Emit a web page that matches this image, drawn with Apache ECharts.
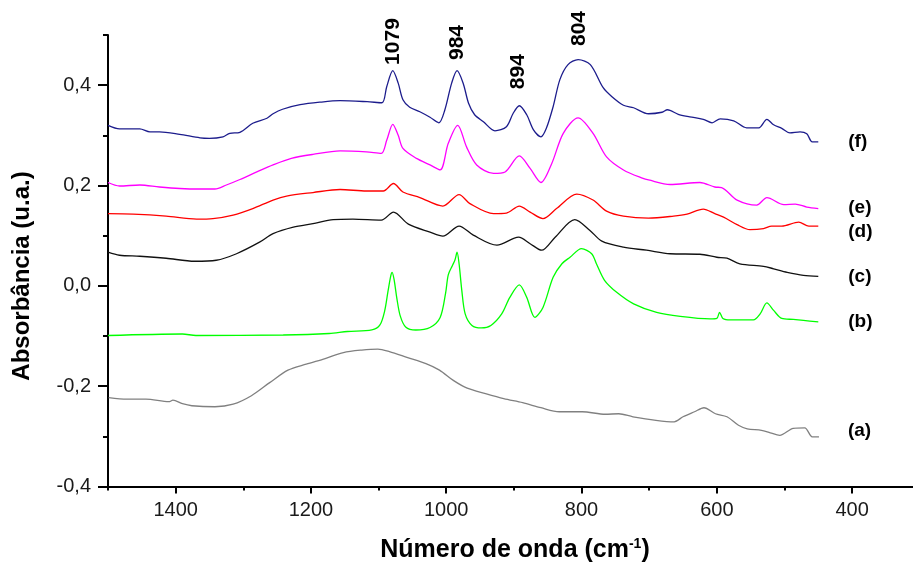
<!DOCTYPE html>
<html>
<head>
<meta charset="utf-8">
<title>Espectros FTIR</title>
<script src="https://cdn.jsdelivr.net/npm/echarts@6/dist/echarts.min.js"></script>
<style>
  html, body { margin: 0; padding: 0; background: #fff; }
  #chart { width: 913px; height: 567px; }
</style>
</head>
<body>
<div id="chart"></div>
<script>
// Spectra: [número de onda (cm-1), absorbância (u.a.)]
const spectrumA = [[1499,-0.223],[1472,-0.226],[1444,-0.226],[1410,-0.231],[1404,-0.228],[1390,-0.235],[1376,-0.239],[1342,-0.241],[1315,-0.236],[1288,-0.219],[1261,-0.193],[1234,-0.168],[1207,-0.156],[1179,-0.145],[1152,-0.133],[1125,-0.128],[1101,-0.126],[1084,-0.131],[1057,-0.143],[1030,-0.155],[1010,-0.168],[989,-0.189],[969,-0.204],[942,-0.215],[915,-0.225],[887,-0.233],[860,-0.243],[833,-0.251],[799,-0.251],[765,-0.256],[745,-0.255],[724,-0.261],[690,-0.268],[663,-0.271],[650,-0.261],[633,-0.251],[619,-0.243],[602,-0.255],[585,-0.261],[568,-0.278],[555,-0.285],[534,-0.288],[521,-0.293],[507,-0.298],[487,-0.284],[470,-0.283],[459,-0.301],[449,-0.301]];

const spectrumB = [[1500,-0.099],[1390,-0.096],[1370,-0.099],[1241,-0.098],[1173,-0.095],[1146,-0.091],[1110,-0.088],[1098,-0.078],[1091,-0.05],[1086,-0.01],[1082,0.02],[1080,0.027],[1077,0.012],[1073,-0.025],[1068,-0.06],[1060,-0.082],[1045,-0.088],[1024,-0.083],[1009,-0.063],[1001,-0.015],[997,0.022],[991,0.04],[987,0.052],[984,0.067],[981,0.044],[977,-0.009],[972,-0.056],[962,-0.079],[948,-0.084],[934,-0.079],[918,-0.056],[906,-0.023],[892,0.002],[881,-0.023],[869,-0.063],[857,-0.043],[842,0.017],[829,0.044],[817,0.057],[800,0.074],[785,0.064],[778,0.044],[766,0.011],[748,-0.013],[723,-0.036],[689,-0.053],[654,-0.061],[610,-0.066],[600,-0.065],[596,-0.053],[591,-0.065],[580,-0.068],[546,-0.068],[536,-0.056],[526,-0.034],[516,-0.049],[504,-0.065],[487,-0.067],[472,-0.069],[450,-0.072]];

const spectrumC = [[1500,0.067],[1483,0.061],[1453,0.059],[1414,0.055],[1372,0.049],[1340,0.051],[1310,0.064],[1276,0.087],[1256,0.104],[1226,0.117],[1197,0.124],[1167,0.132],[1138,0.133],[1096,0.131],[1078,0.147],[1056,0.123],[1024,0.107],[1005,0.099],[981,0.119],[960,0.101],[925,0.081],[893,0.097],[876,0.084],[859,0.071],[839,0.097],[810,0.132],[788,0.111],[770,0.089],[738,0.077],[704,0.071],[669,0.064],[625,0.063],[600,0.057],[585,0.055],[566,0.044],[531,0.039],[516,0.034],[496,0.027],[472,0.021],[450,0.019]];

const spectrumD = [[1500,0.144],[1463,0.143],[1414,0.139],[1369,0.133],[1345,0.134],[1315,0.141],[1286,0.154],[1256,0.171],[1236,0.179],[1197,0.186],[1157,0.192],[1118,0.189],[1093,0.189],[1078,0.204],[1064,0.187],[1039,0.176],[1005,0.159],[981,0.182],[965,0.164],[930,0.144],[911,0.145],[892,0.159],[876,0.147],[857,0.134],[837,0.154],[807,0.183],[783,0.171],[763,0.149],[738,0.139],[701,0.135],[664,0.139],[644,0.143],[620,0.153],[603,0.144],[590,0.137],[570,0.122],[551,0.112],[531,0.114],[519,0.119],[504,0.119],[479,0.127],[464,0.119],[450,0.119]];

const spectrumE = [[1500,0.206],[1483,0.199],[1453,0.201],[1424,0.197],[1394,0.194],[1364,0.193],[1342,0.193],[1325,0.201],[1305,0.212],[1280,0.227],[1256,0.241],[1229,0.254],[1197,0.262],[1157,0.269],[1118,0.267],[1096,0.264],[1088,0.29],[1079,0.322],[1071,0.30],[1064,0.274],[1044,0.254],[1024,0.241],[1009,0.231],[997,0.284],[983,0.32],[970,0.277],[955,0.241],[930,0.224],[913,0.227],[892,0.259],[876,0.234],[860,0.206],[844,0.244],[827,0.304],[805,0.335],[783,0.304],[763,0.257],[738,0.231],[709,0.214],[701,0.211],[669,0.202],[625,0.206],[603,0.197],[593,0.196],[570,0.171],[541,0.161],[526,0.176],[501,0.162],[484,0.163],[467,0.157],[450,0.154]];

const spectrumF = [[1500,0.320],[1483,0.313],[1453,0.313],[1438,0.307],[1424,0.307],[1394,0.302],[1364,0.295],[1350,0.294],[1330,0.297],[1320,0.304],[1305,0.306],[1286,0.324],[1265,0.334],[1256,0.343],[1242,0.352],[1216,0.361],[1187,0.366],[1157,0.369],[1117,0.367],[1095,0.365],[1088,0.397],[1079,0.429],[1071,0.404],[1064,0.371],[1054,0.356],[1039,0.347],[1024,0.336],[1011,0.325],[1002,0.351],[992,0.404],[984,0.429],[975,0.404],[967,0.364],[958,0.341],[945,0.327],[928,0.309],[911,0.317],[901,0.344],[892,0.359],[881,0.341],[871,0.311],[860,0.297],[852,0.314],[842,0.357],[832,0.411],[820,0.441],[805,0.451],[787,0.441],[768,0.395],[755,0.377],[738,0.36],[723,0.355],[701,0.343],[681,0.346],[673,0.351],[657,0.342],[640,0.337],[620,0.332],[607,0.325],[595,0.333],[575,0.329],[556,0.315],[538,0.315],[526,0.332],[516,0.321],[504,0.314],[492,0.305],[477,0.307],[467,0.303],[459,0.287],[450,0.287]];

// Band assignments written above the top spectrum: [número de onda, label height]
const bandLabels = [[1079, 0.487], [984, 0.485], [894, 0.427], [804, 0.513]];

// Axis ticks
const xMajorTicks = [1400, 1200, 1000, 800, 600, 400];
const xMinorTicks = [1500, 1300, 1100, 900, 700, 500];
const yMajorTicks = [-0.4, -0.2, 0, 0.2, 0.4];
const yMinorTicks = [-0.3, -0.1, 0.1, 0.3, 0.5];

const sampleNames = ['(a)', '(b)', '(c)', '(d)', '(e)', '(f)'];
const sampleColors = ['#808080', '#00ff00', '#111111', '#ff0000', '#ff00ff', '#1c1c8c'];
const spectra = [spectrumA, spectrumB, spectrumC, spectrumD, spectrumE, spectrumF];
const endLabelOffsets = [[29, -6], [30, 0], [30, 0], [30, 6], [30, -1], [30, 0]];

const FONT = '"Liberation Sans", Arial, sans-serif';
const X_MIN = 310, X_MAX = 1500, Y_MIN = -0.4, Y_MAX = 0.5;

const chart = echarts.init(document.getElementById('chart'), null, { renderer: 'canvas' });

const axisLine = { show: true, onZero: false, lineStyle: { color: '#000', width: 2 } };

const option = {
  backgroundColor: '#fff',
  animation: false,
  grid: { left: 108, right: 0, top: 35, bottom: 80.5, containLabel: false },
  xAxis: [
    {
      type: 'value', inverse: true, min: X_MIN, max: X_MAX,
      axisLine: axisLine,
      splitLine: { show: false },
      axisTick: { show: true, inside: false, length: 7, customValues: xMajorTicks, lineStyle: { color: '#000', width: 2 } },
      axisLabel: {
        show: true, customValues: xMajorTicks, margin: 14, fontFamily: FONT, fontSize: 20, color: '#1a1a1a',
        formatter: v => String(v)
      }
    },
    {
      type: 'value', inverse: true, min: X_MIN, max: X_MAX, gridIndex: 0, position: 'bottom',
      axisLine: { show: false, onZero: false },
      splitLine: { show: false },
      axisTick: { show: true, inside: false, length: 4, customValues: xMinorTicks, lineStyle: { color: '#000', width: 2 } },
      axisLabel: { show: false }
    }
  ],
  yAxis: [
    {
      type: 'value', min: Y_MIN, max: Y_MAX,
      axisLine: axisLine,
      splitLine: { show: false },
      axisTick: { show: true, inside: false, length: 10, customValues: yMajorTicks, lineStyle: { color: '#000', width: 2 } },
      axisLabel: {
        show: true, customValues: yMajorTicks, margin: 17, fontFamily: FONT, fontSize: 20, color: '#1a1a1a',
        formatter: v => v.toFixed(1).replace('.', ',')
      }
    },
    {
      type: 'value', min: Y_MIN, max: Y_MAX, gridIndex: 0, position: 'left',
      axisLine: { show: false, onZero: false },
      splitLine: { show: false },
      axisTick: { show: true, inside: false, length: 5, customValues: yMinorTicks, lineStyle: { color: '#000', width: 2 } },
      axisLabel: { show: false }
    }
  ],
  series: spectra.map((data, i) => ({
    name: sampleNames[i],
    type: 'line',
    data: data,
    showSymbol: false,
    smooth: 0.3,
    clip: false,
    lineStyle: { color: sampleColors[i], width: 1.3 },
    endLabel: {
      show: true,
      formatter: sampleNames[i],
      distance: 0,
      align: 'left',
      offset: endLabelOffsets[i],
      fontFamily: FONT, fontWeight: 'bold', fontSize: 19, color: '#000'
    },
    z: 2 + i
  })).concat([{
    name: 'bandas',
    type: 'scatter',
    data: bandLabels,
    symbolSize: 1,
    clip: false,
    itemStyle: { color: 'rgba(0,0,0,0)', opacity: 1 },
    label: {
      show: true, position: 'inside', rotate: 90,
      formatter: p => String(p.value[0]),
      fontFamily: FONT, fontWeight: 'bold', fontSize: 21, color: '#000',
      textBorderWidth: 0
    },
    z: 10
  }]),
  graphic: [
    {
      type: 'text', x: 22, y: 276, rotation: Math.PI / 2,
      style: {
        text: 'Absorbância (u.a.)', fontFamily: FONT, fontWeight: 'bold', fontSize: 24,
        fill: '#000', align: 'center', verticalAlign: 'middle'
      }
    },
    {
      type: 'text', x: 515, y: 550,
      style: {
        text: '{t|Número de onda (cm}{s|-1}{t|)}',
        align: 'center', verticalAlign: 'middle',
        rich: {
          t: { fontFamily: FONT, fontWeight: 'bold', fontSize: 25, fill: '#000' },
          s: { fontFamily: FONT, fontWeight: 'bold', fontSize: 14, fill: '#000', padding: [0, 0, 12, 0] }
        }
      }
    }
  ]
};

chart.setOption(option);
</script>
</body>
</html>
